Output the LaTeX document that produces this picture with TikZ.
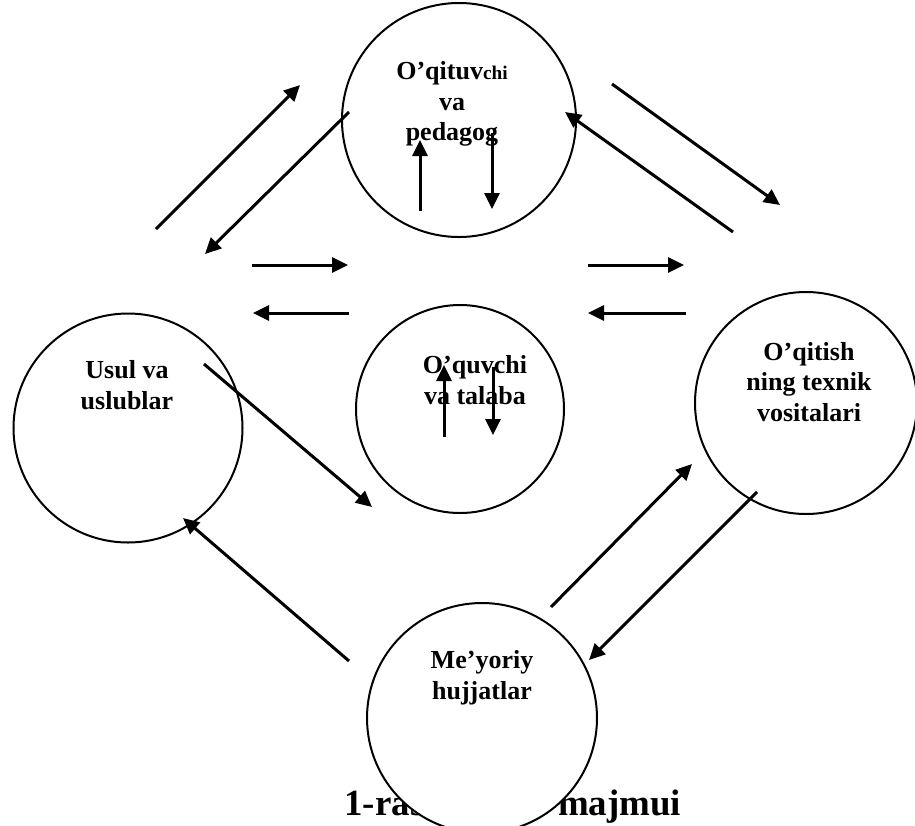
\documentclass[tikz,border=0pt]{standalone}
\usepackage{fontspec}
\setmainfont{Liberation Serif}
\usepackage{tikz}
\usetikzlibrary{arrows.meta}
\usetikzlibrary{positioning}

\begin{document}
\begin{tikzpicture}[x=0.2mm,y=-0.2mm,>={Triangle[length=3.2mm,width=3mm]},line width=0.6mm]
\tikzstyle{every node}=[font=\bfseries\fontsize{14.8}{17.5}\selectfont]
\tikzstyle{doira}=[circle,draw,fill=white,line width=0.4mm,inner sep=0pt]
\tikzstyle{matn}=[align=center,inner sep=0pt]
\useasboundingbox (0,0) rectangle (915,825);

% sarlavha (doira ostida qoladi)
\path node[anchor=base west,inner sep=0pt,font=\bfseries\fontsize{21}{25}\selectfont] (sarl) at (343,815) {1-rasm\hspace{20.6mm}majmui};

\path node[doira,minimum size=46.8mm] (oqit) at (459,120) {};
\path node[doira,minimum size=41.6mm] (oquv) at (460,409) {};
\path node[doira,minimum size=45.8mm] (usul) at (128,428) {};
\path node[doira,minimum size=44.4mm] (tvos) at (806,403) {};
\path node[doira,minimum size=46mm] (meyor) at (482,718) {};

\path node[matn] (t1) at (452,104) {O’qituv{\fontsize{11}{13}\selectfont chi}\\va\\pedagog};
\path node[matn] (t2) at (475,380) {O’quvchi\\va talaba};
\path node[matn] (t3) at (127,385) {Usul va\\uslublar};
\path node[matn] (t4) at (809,382) {O’qitish\\ning texnik\\vositalari};
\path node[matn] (t5) at (482,678) {Me’yoriy\\hujjatlar};

\coordinate (a1) at (156,229); \coordinate (a2) at (300,85);
\coordinate (b1) at (349,112); \coordinate (b2) at (205,254);
\coordinate (c1) at (612,84);  \coordinate (c2) at (780,205);
\coordinate (d1) at (733,232); \coordinate (d2) at (565,112);
\coordinate (e1) at (204,364); \coordinate (e2) at (372,507);
\coordinate (f1) at (349,661); \coordinate (f2) at (183,518);
\coordinate (g1) at (551,607); \coordinate (g2) at (692,464);
\coordinate (h1) at (757,492); \coordinate (h2) at (589,660);
\coordinate (o1) at (252,265); \coordinate (o2) at (348,265);
\coordinate (s1) at (349,313); \coordinate (s2) at (253,313);
\coordinate (o3) at (588,265); \coordinate (o4) at (684,265);
\coordinate (s3) at (686,313); \coordinate (s4) at (588,313);
\coordinate (p1) at (420,211); \coordinate (p2) at (420,140);
\coordinate (p3) at (492,133); \coordinate (p4) at (492,209);
\coordinate (q1) at (444,437); \coordinate (q2) at (444,365);
\coordinate (q3) at (493,367); \coordinate (q4) at (493,435);

\path[->,draw] (a1) -- (a2);
\path[->,draw] (b1) -- (b2);
\path[->,draw] (c1) -- (c2);
\path[->,draw] (d1) -- (d2);
\path[->,draw] (e1) -- (e2);
\path[->,draw] (f1) -- (f2);
\path[->,draw] (g1) -- (g2);
\path[->,draw] (h1) -- (h2);
\path[->,draw] (o1) -- (o2);
\path[->,draw] (s1) -- (s2);
\path[->,draw] (o3) -- (o4);
\path[->,draw] (s3) -- (s4);
\path[->,draw] (p1) -- (p2);
\path[->,draw] (p3) -- (p4);
\path[->,draw] (q1) -- (q2);
\path[->,draw] (q3) -- (q4);
\end{tikzpicture}
\end{document}
